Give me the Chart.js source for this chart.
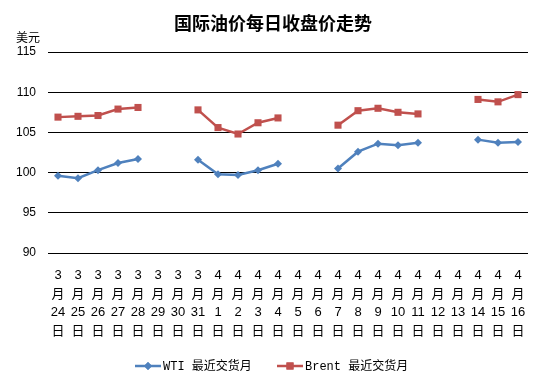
<!DOCTYPE html>
<html>
<head>
<meta charset="utf-8">
<script src="https://cdn.jsdelivr.net/npm/chart.js@4/dist/chart.umd.min.js"></script>
<style>
  html, body { margin: 0; padding: 0; background: #fff; }
  #wrap { width: 544px; height: 384px; }
</style>
</head>
<body>
<div id="wrap"><canvas id="oil" width="544" height="384"></canvas></div>
<script>
// 날짜 카테고리 (월, 일)
const months = ['3','3','3','3','3','3','3','3','4','4','4','4','4','4','4','4','4','4','4','4','4','4','4','4'];
const days = ['24','25','26','27','28','29','30','31','1','2','3','4','5','6','7','8','9','10','11','12','13','14','15','16'];
// 주말은 null (끊김)
const wti = [99.6, 99.3, 100.3, 101.2, 101.7, null, null, 101.6, 99.8, 99.7, 100.3, 101.1, null, null, 100.5, 102.6, 103.6, 103.4, 103.7, null, null, 104.1, 103.7, 103.8];
const brent = [106.9, 107.0, 107.1, 107.9, 108.1, null, null, 107.8, 105.6, 104.8, 106.2, 106.8, null, null, 105.9, 107.7, 108.0, 107.5, 107.3, null, null, 109.1, 108.8, 109.7];
const yTicks = [90, 95, 100, 105, 110, 115];
const seriesNames = ['WTI 最近交货月', 'Brent 最近交货月'];
const titleText = '国际油价每日收盘价走势';
const unitText = '美元';

const BLUE = '#4F81BD';
const RED = '#C0504D';

const labels = months.map((m, i) => [m, '月', days[i], '日']);

// 제목, 단위, 범례 그리기
const extras = {
  id: 'extras',
  afterDraw(chart) {
    const ctx = chart.ctx;
    ctx.save();
    ctx.fillStyle = '#000';
    ctx.textAlign = 'center';
    ctx.textBaseline = 'middle';
    ctx.font = 'bold 18px "Noto Sans CJK SC"';
    ctx.fillText(titleText, 273, 23);
    ctx.font = '12px "Noto Sans CJK SC"';
    ctx.fillText(unitText, 28, 37);

    // 범례
    const items = [
      { name: seriesNames[0], color: BLUE, style: 'rectRot', r: 4, x: 135 },
      { name: seriesNames[1], color: RED, style: 'rect', r: 5, x: 277 }
    ];
    const ly = 366;
    items.forEach(it => {
      ctx.strokeStyle = it.color;
      ctx.lineWidth = 2.5;
      ctx.beginPath();
      ctx.moveTo(it.x, ly);
      ctx.lineTo(it.x + 26, ly);
      ctx.stroke();
      ctx.fillStyle = it.color;
      Chart.helpers.drawPoint(ctx, { pointStyle: it.style, radius: it.r, borderWidth: 0, rotation: 0 }, it.x + 13, ly);
      ctx.fill();
      ctx.fillStyle = '#000';
      ctx.textAlign = 'left';
      ctx.font = '12px "Liberation Mono", "Noto Sans CJK SC"';
      ctx.fillText(it.name, it.x + 28, ly + 1);
    });
    ctx.restore();
  }
};

const bgPlugin = {
  id: 'bg',
  beforeDraw(chart) {
    const ctx = chart.ctx;
    ctx.save();
    ctx.fillStyle = '#fff';
    ctx.fillRect(0, 0, chart.width, chart.height);
    ctx.restore();
  }
};

new Chart(document.getElementById('oil').getContext('2d'), {
  type: 'line',
  data: {
    labels: labels,
    datasets: [
      {
        label: seriesNames[0],
        data: wti,
        borderColor: BLUE,
        backgroundColor: BLUE,
        borderWidth: 2.5,
        pointStyle: 'rectRot',
        pointRadius: 4,
        pointBorderWidth: 0,
        tension: 0,
        spanGaps: false
      },
      {
        label: seriesNames[1],
        data: brent,
        borderColor: RED,
        backgroundColor: RED,
        borderWidth: 2.5,
        pointStyle: 'rect',
        pointRadius: 5,
        pointBorderWidth: 0,
        tension: 0,
        spanGaps: false
      }
    ]
  },
  options: {
    responsive: false,
    animation: false,
    devicePixelRatio: 1,
    layout: { padding: { top: 52, left: 0, right: 16, bottom: 0 } },
    plugins: {
      legend: { display: false },
      title: { display: false },
      tooltip: { enabled: false }
    },
    scales: {
      x: {
        offset: true,
        grid: { display: false },
        border: { display: false },
        ticks: {
          color: '#000',
          maxRotation: 0,
          autoSkip: false,
          padding: 5,
          font: { family: '"Liberation Sans", "Noto Sans CJK SC"', size: 13, lineHeight: 1.44 }
        },
        afterFit(scale) { scale.height = 131; }
      },
      y: {
        min: 90,
        max: 115,
        afterBuildTicks(scale) { scale.ticks = yTicks.map(v => ({ value: v })); },
        grid: { color: '#000', lineWidth: 1, drawTicks: false },
        border: { display: false },
        ticks: {
          color: '#000',
          padding: 12,
          font: { family: '"Liberation Sans"', size: 12 }
        },
        afterFit(scale) { scale.width = 48; }
      }
    }
  },
  plugins: [bgPlugin, extras]
});
</script>
</body>
</html>
